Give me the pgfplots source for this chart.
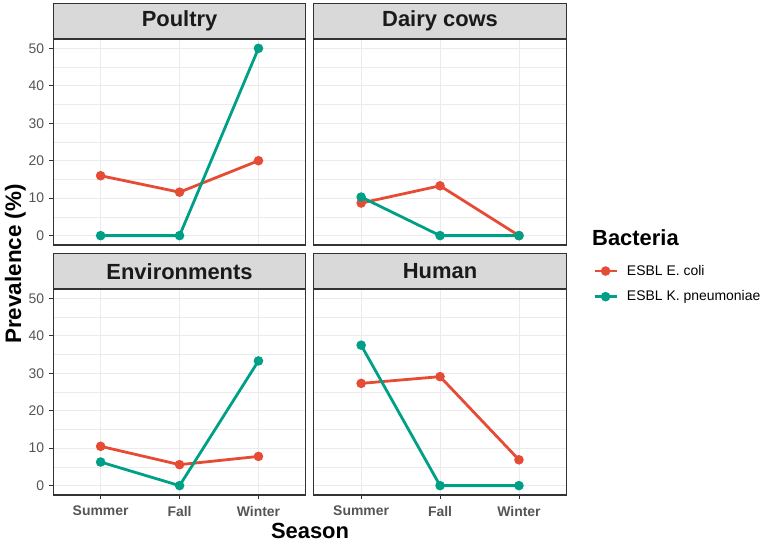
\documentclass[border=0pt]{standalone}
\usepackage{pgfplots}
\pgfplotsset{compat=1.18}
\usepackage{fontspec}
\setmainfont{Liberation Sans}
\definecolor{ecoli}{HTML}{E64B35}
\definecolor{kpn}{HTML}{00A087}
\definecolor{gridc}{HTML}{EBEBEB}
\definecolor{framec}{HTML}{333333}
\definecolor{stripc}{HTML}{D9D9D9}
\definecolor{tickc}{HTML}{555555}
\definecolor{titc}{HTML}{1A1A1A}
\pgfplotsset{
  panel/.style={
    scale only axis, width=252.5bp, height=206bp,
    xmin=0.4, xmax=3.6, ymin=-2.5, ymax=52.5,
    xtick={1,2,3}, ytick={0,10,20,30,40,50},
    minor ytick={5,15,25,35,45},
    grid=both,
    major grid style={draw=gridc, line width=0.9bp},
    minor grid style={draw=gridc, line width=0.5bp},
    axis line style={draw=framec, line width=1.1bp},
    tick align=outside, tick pos=left,
    major tick length=4bp, minor tick length=0bp,
    tick style={draw=framec, line width=0.9bp},
    /pgf/number format/assume math mode=true,
    ticklabel style={font=\fontsize{14}{16}\selectfont, text=tickc},
    xticklabel style={font=\bfseries\fontsize{14}{16}\selectfont, yshift=-3.5bp},
    yticklabel style={inner sep=0pt, xshift=-5bp},
    every axis title shift=0pt,
    title style={at={(0.5,1)}, anchor=south, fill=stripc, draw=framec, line width=1.1bp,
      minimum width=252.5bp, minimum height=34.5bp, inner sep=0pt, yshift=0bp,
      font=\bfseries\fontsize{22}{26}\selectfont, text=titc},
    every axis plot/.append style={line width=2.8bp, mark=*, mark size=3.3bp},
    clip=false,
  },
  notop/.style={xticklabels={}, xtick style={draw=none}},
  noleft/.style={yticklabels={}, ytick style={draw=none}},
  ec/.style={color=ecoli, mark options={fill=ecoli, draw=ecoli}},
  kp/.style={color=kpn, mark options={fill=kpn, draw=kpn}},
}
\begin{document}
\begin{tikzpicture}[x=1bp,y=1bp]
\useasboundingbox (0,0) rectangle (767,543);
% Poultry
\begin{axis}[panel, notop, at={(53.3bp,298bp)}, anchor=south west, title={Poultry}]
\addplot[ec] coordinates {(1,16) (2,11.6) (3,20)};
\addplot[kp] coordinates {(1,0) (2,0) (3,50)};
\end{axis}
% Dairy cows
\begin{axis}[panel, notop, noleft, at={(313.8bp,298bp)}, anchor=south west, title={Dairy cows}]
\addplot[ec] coordinates {(1,8.7) (2,13.3) (3,0)};
\addplot[kp] coordinates {(1,10.3) (2,0) (3,0)};
\end{axis}
% Environments
\begin{axis}[panel, at={(53.3bp,48bp)}, anchor=south west, title={Environments},
  xticklabels={Summer,Fall,Winter}]
\addplot[ec] coordinates {(1,10.5) (2,5.6) (3,7.8)};
\addplot[kp] coordinates {(1,6.3) (2,0) (3,33.3)};
\end{axis}
% Human
\begin{axis}[panel, noleft, at={(313.8bp,48bp)}, anchor=south west, title={Human},
  xticklabels={Summer,Fall,Winter},
  legend style={draw=none, fill=none, inner sep=0pt, at={(axis description cs:1.1057,1.025)},
    anchor=west, font=\fontsize{14}{16}\selectfont, row sep=14bp, column sep=9bp,
    nodes={inner sep=0pt}},
  legend cell align=left,
  legend image code/.code={\draw[#1, line width=2.8bp, mark repeat=2, mark phase=2] plot coordinates {(0bp,0bp) (11bp,0bp) (22bp,0bp)};}]
\addplot[ec] coordinates {(1,27.3) (2,29.1) (3,6.9)};
\addlegendentry{ESBL E. coli}
\addplot[kp] coordinates {(1,37.5) (2,0) (3,0)};
\addlegendentry{ESBL K. pneumoniae}
\end{axis}
\node[anchor=base west, inner sep=0pt, font=\bfseries\fontsize{22}{26}\selectfont] at (592,297) {Bacteria};
\node[anchor=base, inner sep=0pt, font=\bfseries\fontsize{22}{26}\selectfont] at (310,4) {Season};
\node[rotate=90, anchor=base, inner sep=0pt, font=\bfseries\fontsize{22.5}{26}\selectfont] at (21,279) {Prevalence (\%)};
\end{tikzpicture}
\end{document}
